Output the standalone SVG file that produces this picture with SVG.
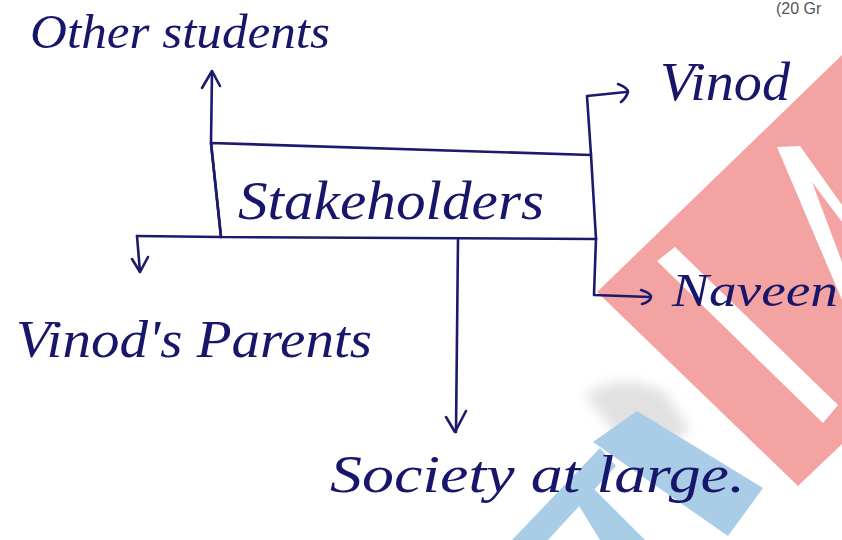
<svg xmlns="http://www.w3.org/2000/svg" width="842" height="540" viewBox="0 0 842 540">
  <defs>
    <style>
      .ink { fill: none; stroke: #1b1a6c; stroke-width: 2.6; stroke-linecap: round; stroke-linejoin: round; }
      .hand { font-family: "Liberation Serif", "DejaVu Serif", serif; font-style: italic; fill: #17166a; }
      .print { font-family: "Liberation Sans", Arial, sans-serif; fill: #555; }
    </style>
    <filter id="soft" x="-20%" y="-20%" width="140%" height="140%">
      <feGaussianBlur stdDeviation="6"/>
    </filter>
  </defs>

  <rect width="842" height="540" fill="#ffffff"/>

  <!-- background stamp marks -->
  <g id="stamp">
    <path d="M585,395 Q620,370 665,392 L690,430 Q660,455 625,445 Z" fill="#c9c9c9" opacity="0.55" filter="url(#soft)"/>
    <path d="M800,165 Q830,170 842,190 L842,215 Q815,210 800,190 Z" fill="#c9c9c9" opacity="0.5" filter="url(#soft)"/>
    <polygon points="842,55 597,292 798,486 842,444" fill="#f4a3a3"/>
    <polygon points="657,261 675,247 838,405 823,423" fill="#ffffff"/>
    <polygon points="777,147 800,146 842,205 842,300" fill="#ffffff"/>
    <polygon points="812,182 842,222 842,262" fill="#f4a3a3"/>
    <polygon points="593,442 637,411 763,488 728,536" fill="#a9cde6"/>
    <polygon points="600,448 616,466 548,540 512,540" fill="#a9cde6"/>
    <polygon points="565,483 592,487 645,540 600,540" fill="#a9cde6"/>
  </g>

  <!-- page header, partly off the sheet -->
  <text class="print" x="776" y="14" font-size="16">(20 Gr</text>

  <!-- connectors -->
  <g id="connectors">
    <path class="ink" d="M221,237 L211,143 L212,72"/>
    <path class="ink" d="M202,88 L212,71 L220,86"/>
    <path class="ink" d="M137,236 L140,272"/>
    <path class="ink" d="M132,259 L140,272 L148,257"/>
    <path class="ink" d="M458,240 L456,432"/>
    <path class="ink" d="M446,417 L455,432 L466,411"/>
    <path class="ink" d="M591,155 L587,96 L626,92"/>
    <path class="ink" d="M618,84 Q628,88 628,92 Q626,98 621,102"/>
    <path class="ink" d="M596,238 L594,295 L650,297"/>
    <path class="ink" d="M641,290 Q651,293 651,297 Q650,302 642,304"/>
    <path class="ink" d="M137,236 L221,237"/>
  </g>

  <!-- central node -->
  <g id="stakeholders">
    <path class="ink" d="M211,143 L591,155 L596,239 L221,237 Z"/>
    <text class="hand" x="238" y="219" font-size="54" textLength="306" lengthAdjust="spacingAndGlyphs">Stakeholders</text>
  </g>

  <g id="other-students">
    <text class="hand" x="30" y="48" font-size="48" textLength="300" lengthAdjust="spacingAndGlyphs">Other students</text>
  </g>

  <g id="vinod">
    <text class="hand" x="660" y="100" font-size="54" textLength="130" lengthAdjust="spacingAndGlyphs">Vinod</text>
  </g>

  <g id="naveen">
    <text class="hand" x="672" y="306" font-size="46" textLength="166" lengthAdjust="spacingAndGlyphs">Naveen</text>
  </g>

  <g id="vinods-parents">
    <text class="hand" x="16" y="357" font-size="52" textLength="356" lengthAdjust="spacingAndGlyphs">Vinod's Parents</text>
  </g>

  <g id="society">
    <text class="hand" x="330" y="492" font-size="52" textLength="415" lengthAdjust="spacingAndGlyphs">Society at large.</text>
  </g>
</svg>
